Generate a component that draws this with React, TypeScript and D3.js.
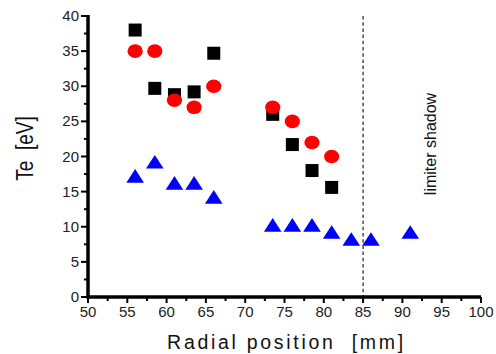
import React from "react";
import * as d3 from "d3";

const xSquares = [56, 58.5, 61, 63.5, 66, 73.5, 76, 78.5, 81];
const ySquares = [38, 29.7, 28.8, 29.2, 34.7, 26, 21.7, 18, 15.6];
const xCircles = [56, 58.5, 61, 63.5, 66, 73.5, 76, 78.5, 81];
const yCircles = [35, 35, 28, 27, 30, 27, 25, 22, 20];
const xTriangles = [56, 58.5, 61, 63.5, 66, 73.5, 76, 78.5, 81, 83.5, 86, 91];
const yTriangles = [17, 19, 16, 16, 14, 10, 10, 10, 9, 8, 8, 9];
const xTicks = [50, 55, 60, 65, 70, 75, 80, 85, 90, 95, 100];
const yTicks = [0, 5, 10, 15, 20, 25, 30, 35, 40];
const limiterX = 85;

export default function App() {
  const W = 496, H = 354;
  const x = d3.scaleLinear().domain([50, 100]).range([88, 481]);
  const y = d3.scaleLinear().domain([0, 40]).range([297, 16]);
  const font = "'Liberation Sans', Arial, sans-serif";
  const xMinor = d3.range(52.5, 100, 5);
  const yMinor = d3.range(2.5, 40, 5);
  const tri = d3.symbol().type(d3.symbolTriangle).size(120)();
  return (
    <svg width={W} height={H} style={{ position: "absolute", left: 0, top: 0 }} fontFamily={font}>
      <rect width={W} height={H} fill="#fff" />
      <line x1={x(limiterX)} x2={x(limiterX)} y1={y(40)} y2={y(0)} stroke="#333" strokeWidth={1.3} strokeDasharray="3.5,2.7" />
      <text transform={`translate(435.5,144) rotate(-90)`} textAnchor="middle" fontSize={16} fill="#111">limiter shadow</text>
      {xTriangles.map((v, i) => (
        <path key={"t" + i} d={tri!} transform={`translate(${x(v)},${y(yTriangles[i]) + 0.5}) scale(1.06,0.95)`} fill="#0000ff" />
      ))}
      {xSquares.map((v, i) => (
        <rect key={"s" + i} x={x(v) - 6.5} y={y(ySquares[i]) - 6.5} width={13} height={13} fill="#000" />
      ))}
      {xCircles.map((v, i) => (
        <ellipse key={"c" + i} cx={x(v)} cy={y(yCircles[i])} rx={7.6} ry={6.8} fill="#ff0000" />
      ))}
      <line x1={x(50)} x2={x(100)} y1={y(0)} y2={y(0)} stroke="#000" strokeWidth={3.5} />
      <line x1={x(50)} x2={x(50)} y1={y(0) + 1.7} y2={y(40) - 1} stroke="#000" strokeWidth={3.5} />
      {xTicks.map((t) => (
        <g key={"xt" + t}>
          <line x1={x(t)} x2={x(t)} y1={y(0)} y2={y(0) + 6} stroke="#000" strokeWidth={2} />
          <text x={x(t)} y={y(0) + 20} textAnchor="middle" fontSize={15} fill="#222">{t}</text>
        </g>
      ))}
      {xMinor.map((t) => (
        <line key={"xm" + t} x1={x(t)} x2={x(t)} y1={y(0)} y2={y(0) + 4} stroke="#000" strokeWidth={2} />
      ))}
      {yTicks.map((t) => (
        <g key={"yt" + t}>
          <line x1={x(50) - 7} x2={x(50)} y1={y(t)} y2={y(t)} stroke="#000" strokeWidth={2} />
          <text x={x(50) - 9} y={y(t) + 5} textAnchor="end" fontSize={15} fill="#222">{t}</text>
        </g>
      ))}
      {yMinor.map((t) => (
        <line key={"ym" + t} x1={x(50) - 4} x2={x(50)} y1={y(t)} y2={y(t)} stroke="#000" strokeWidth={2} />
      ))}
      <text x={286.5} y={349} textAnchor="middle" fontSize={19.5} letterSpacing={2.7} fill="#111" style={{ whiteSpace: "pre" }}>Radial position  [mm]</text>
      <text transform={`translate(33,148.5) rotate(-90) scale(1,1.3)`} textAnchor="middle" fontSize={19} fill="#111" style={{ whiteSpace: "pre" }}>Te  [eV]</text>
    </svg>
  );
}
